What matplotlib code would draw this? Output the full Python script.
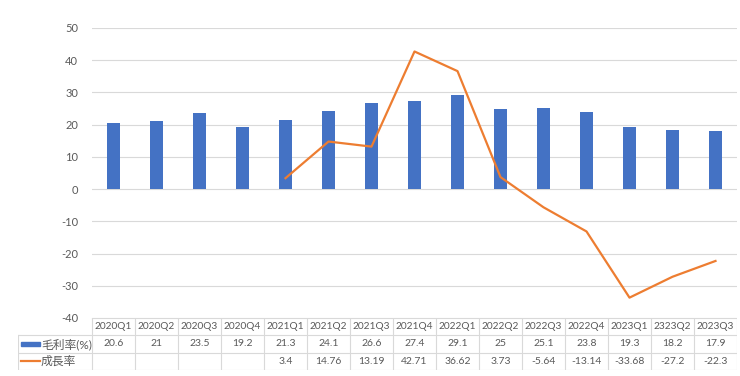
import matplotlib
matplotlib.use("Agg")
import matplotlib.pyplot as plt
from matplotlib.patches import Rectangle

categories = ["2020Q1", "2020Q2", "2020Q3", "2020Q4", "2021Q1", "2021Q2", "2021Q3",
              "2021Q4", "2022Q1", "2022Q2", "2022Q3", "2022Q4", "2023Q1", "2323Q2", "2023Q3"]
margin = [20.6, 21, 23.5, 19.2, 21.3, 24.1, 26.6, 27.4, 29.1, 25, 25.1, 23.8, 19.3, 18.2, 17.9]
growth = [None, None, None, None, 3.4, 14.76, 13.19, 42.71, 36.62, 3.73, -5.64, -13.14,
          -33.68, -27.2, -22.3]
growth_labels = ["", "", "", "", "3.4", "14.76", "13.19", "42.71", "36.62", "3.73", "-5.64",
                 "-13.14", "-33.68", "-27.2", "-22.3"]
margin_labels = ["20.6", "21", "23.5", "19.2", "21.3", "24.1", "26.6", "27.4", "29.1", "25",
                 "25.1", "23.8", "19.3", "18.2", "17.9"]
series_names = ["毛利率(%)", "成長率"]
yticks = [-40, -30, -20, -10, 0, 10, 20, 30, 40, 50]

BLUE = "#4472C4"
ORANGE = "#ED7D31"
GRID = "#D9D9D9"
TXT = "#595959"
FAM = ["Lato", "Noto Sans CJK TC", "DejaVu Sans"]
plt.rcParams["font.family"] = FAM

W, H = 740, 376
fig = plt.figure(figsize=(W / 100, H / 100), dpi=100)

x0, x1 = 92, 737
ytop, ybot = 28, 318
ax = fig.add_axes([x0 / W, (H - ybot) / H, (x1 - x0) / W, (ybot - ytop) / H])
n = len(categories)
xs = list(range(n))
ax.bar(xs, margin, width=0.32, color=BLUE, zorder=3)
gx = [i for i, g in zip(xs, growth) if g is not None]
gy = [g for g in growth if g is not None]
ax.plot(gx, gy, color=ORANGE, lw=1.6, zorder=4)
ax.set_xlim(-0.5, n - 0.5)
ax.set_ylim(-40, 50)
ax.set_yticks(yticks)
ax.set_yticklabels([str(t) for t in yticks])
ax.tick_params(axis="y", length=0, labelsize=8, labelcolor=TXT, pad=10)
ax.set_xticks([])
for t in yticks:
    ax.axhline(t, color=GRID, lw=0.8, zorder=1)
for s in ax.spines.values():
    s.set_visible(False)

# data table
tx0 = 18
row_edges = [318, 335, 353, 370]
cw = (x1 - x0) / n
left_units = (x0 - tx0) / cw
tab = fig.add_axes([tx0 / W, (H - row_edges[-1]) / H, (x1 - tx0) / W,
                    (row_edges[-1] - row_edges[0]) / H])
tab.set_xlim(-0.5 - left_units, n - 0.5)
tab.set_ylim(3, 0)
tab.axis("off")
lk = dict(color=GRID, lw=0.8)
tab.plot([-0.5, n - 0.5], [0, 0], **lk)
for r in (1, 2, 3):
    tab.plot([-0.5 - left_units, n - 0.5], [r, r], **lk)
for i in range(n + 1):
    tab.plot([i - 0.5, i - 0.5], [0, 3], **lk)
tab.plot([-0.5 - left_units] * 2, [1, 3], **lk)

for i, c in enumerate(categories):
    tab.text(i, 0.5, c, ha="center", va="center", fontsize=7.3, color=TXT)
    tab.text(i, 1.5, margin_labels[i], ha="center", va="center", fontsize=7.5, color=TXT)
    tab.text(i, 2.5, growth_labels[i], ha="center", va="center", fontsize=7.5, color=TXT)

kx = -0.5 - left_units + 3 / cw
kw = 19 / cw
tab.add_patch(Rectangle((kx, 1.38), kw, 0.24, color=BLUE))
tab.plot([kx, kx + kw], [2.5, 2.5], color=ORANGE, lw=1.6)
tab.text(kx + kw + 1 / cw, 1.5, series_names[0], ha="left", va="center", fontsize=8.5, color=TXT)
tab.text(kx + kw + 1 / cw, 2.5, series_names[1], ha="left", va="center", fontsize=8.5, color=TXT)

fig.savefig("out.png", dpi=100, facecolor="white")
